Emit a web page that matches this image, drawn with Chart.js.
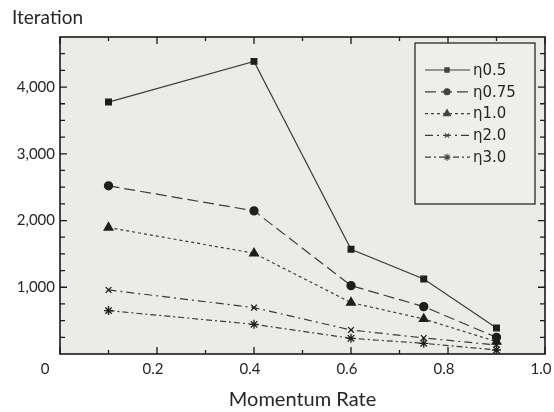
<!DOCTYPE html>
<html lang="en">
<head>
<meta charset="UTF-8">
<title>Iteration vs Momentum Rate</title>
<script src="https://cdn.jsdelivr.net/npm/chart.js"></script>
<style>
  html, body { margin: 0; padding: 0; background: #fff; }
</style>
</head>
<body>
<canvas id="chart" width="554" height="412"></canvas>
<script>
// data
const momentum = [0.1, 0.4, 0.6, 0.75, 0.9];
const seriesLabels = ['η0.5', 'η0.75', 'η1.0', 'η2.0', 'η3.0'];
const eta05 = [3775, 4385, 1570, 1125, 390];
const eta075 = [2520, 2145, 1025, 710, 250];
const eta10 = [1895, 1510, 770, 525, 185];
const eta20 = [960, 695, 360, 240, 135];
const eta30 = [650, 445, 235, 160, 60];
const xTicks = [0.2, 0.4, 0.6, 0.8, 1.0];
const yTicks = [1000, 2000, 3000, 4000];

const ink = '#262626';
const lineCol = '#3c3c3c';
const axisFont = 'Lato';

const styles = [
  { dash: [], point: 'rect', r: 4 },
  { dash: [11, 5], point: 'circle', r: 4 },
  { dash: [3, 3], point: 'triangle', r: 5 },
  { dash: [8, 4, 2, 4], point: 'crossRot', r: 4 },
  { dash: [6, 3, 2, 3], point: 'star', r: 4.5 }
];

const allSeries = [eta05, eta075, eta10, eta20, eta30];
const datasets = allSeries.map((vals, i) => ({
  label: seriesLabels[i],
  data: momentum.map((m, j) => ({ x: m, y: vals[j] })),
  borderColor: lineCol,
  borderWidth: 1.2,
  borderDash: styles[i].dash,
  pointStyle: styles[i].point,
  pointRadius: styles[i].r,
  pointBackgroundColor: '#1e1e1e',
  pointBorderColor: '#1e1e1e',
  pointBorderWidth: 1.3,
  tension: 0
}));

// plot background, box and inward ticks
const framePlugin = {
  id: 'frame',
  beforeDraw(chart) {
    const { ctx, chartArea: a } = chart;
    ctx.save();
    ctx.fillStyle = '#ebebe8';
    ctx.fillRect(a.left, a.top, a.right - a.left, a.bottom - a.top);
    ctx.restore();
  },
  afterDraw(chart) {
    const { ctx, chartArea: a, scales } = chart;
    ctx.save();
    ctx.strokeStyle = '#1a1a1a';
    ctx.lineWidth = 1.6;
    ctx.strokeRect(a.left, a.top, a.right - a.left, a.bottom - a.top);
    ctx.lineWidth = 1.3;
    ctx.beginPath();
    for (let i = 0; i <= 10; i++) {
      const px = scales.x.getPixelForValue(i / 10);
      const len = i % 2 === 0 ? 7 : 4;
      ctx.moveTo(px, a.bottom); ctx.lineTo(px, a.bottom - len);
      ctx.moveTo(px, a.top); ctx.lineTo(px, a.top + len);
    }
    for (let v = 250; v < 4750; v += 250) {
      const py = scales.y.getPixelForValue(v);
      const len = v % 1000 === 0 ? 7 : 5;
      ctx.moveTo(a.left, py); ctx.lineTo(a.left + len, py);
      ctx.moveTo(a.right, py); ctx.lineTo(a.right - len, py);
    }
    ctx.stroke();

    // origin label shared by both axes
    ctx.fillStyle = ink;
    ctx.font = '15px ' + axisFont;
    ctx.textAlign = 'center';
    ctx.textBaseline = 'middle';
    ctx.fillText('0', a.left - 15, a.bottom + 15);
    ctx.restore();
  }
};

// boxed legend inside the plot, top right
const legendPlugin = {
  id: 'boxLegend',
  afterDraw(chart) {
    const { ctx, chartArea: a } = chart;
    const w = 120, h = 161;
    const left = a.right - 10 - w, top = a.top + 6;
    ctx.save();
    ctx.fillStyle = '#eeeeeb';
    ctx.fillRect(left, top, w, h);
    ctx.strokeStyle = '#2a2a2a';
    ctx.lineWidth = 1.3;
    ctx.strokeRect(left, top, w, h);
    chart.data.datasets.forEach((ds, i) => {
      const y = top + 27 + i * 21.8;
      ctx.strokeStyle = ds.borderColor;
      ctx.lineWidth = ds.borderWidth;
      ctx.setLineDash(ds.borderDash);
      ctx.beginPath();
      ctx.moveTo(left + 10, y);
      ctx.lineTo(left + 55, y);
      ctx.stroke();
      ctx.setLineDash([]);
      ctx.fillStyle = '#444';
      ctx.strokeStyle = '#444';
      ctx.lineWidth = 1.1;
      Chart.helpers.drawPoint(ctx, {
        pointStyle: ds.pointStyle, radius: ds.pointRadius - 1, rotation: 0, borderWidth: 1.1
      }, left + 32, y);
      ctx.fillStyle = ink;
      ctx.font = '15px "DejaVu Sans"';
      ctx.textAlign = 'left';
      ctx.textBaseline = 'middle';
      ctx.fillText(ds.label, left + 58, y + 1);
    });
    ctx.restore();
  }
};

new Chart(document.getElementById('chart'), {
  type: 'line',
  data: { datasets: datasets },
  options: {
    responsive: false,
    animation: false,
    layout: { padding: { left: 12, right: 9, top: 0, bottom: 0 } },
    plugins: {
      legend: { display: false },
      tooltip: { enabled: false },
      title: {
        display: true,
        text: 'Iteration',
        align: 'start',
        color: ink,
        font: { family: axisFont, size: 19, weight: 'normal' },
        padding: { top: 6, bottom: 8.2 }
      }
    },
    scales: {
      x: {
        type: 'linear',
        min: 0,
        max: 1,
        afterFit: s => { s.height = 58; s.paddingRight = 0; s.paddingLeft = 0; },
        afterBuildTicks: s => { s.ticks = xTicks.map(v => ({ value: v })); },
        grid: { display: false, drawTicks: false },
        border: { display: false },
        ticks: {
          color: ink,
          padding: 6,
          labelOffset: -4,
          font: { family: axisFont, size: 15 },
          callback: v => v.toFixed(1)
        },
        title: {
          display: true,
          text: 'Momentum Rate',
          color: ink,
          font: { family: axisFont, size: 20 },
          padding: { top: 0, bottom: 0 }
        }
      },
      y: {
        min: 0,
        max: 4750,
        afterFit: s => { s.width = 48; },
        afterBuildTicks: s => { s.ticks = yTicks.map(v => ({ value: v })); },
        grid: { display: false, drawTicks: false },
        border: { display: false },
        ticks: {
          color: ink,
          padding: 5,
          font: { family: axisFont, size: 15 },
          callback: v => v.toLocaleString('en-US')
        }
      }
    }
  },
  plugins: [framePlugin, legendPlugin]
});
</script>
</body>
</html>
